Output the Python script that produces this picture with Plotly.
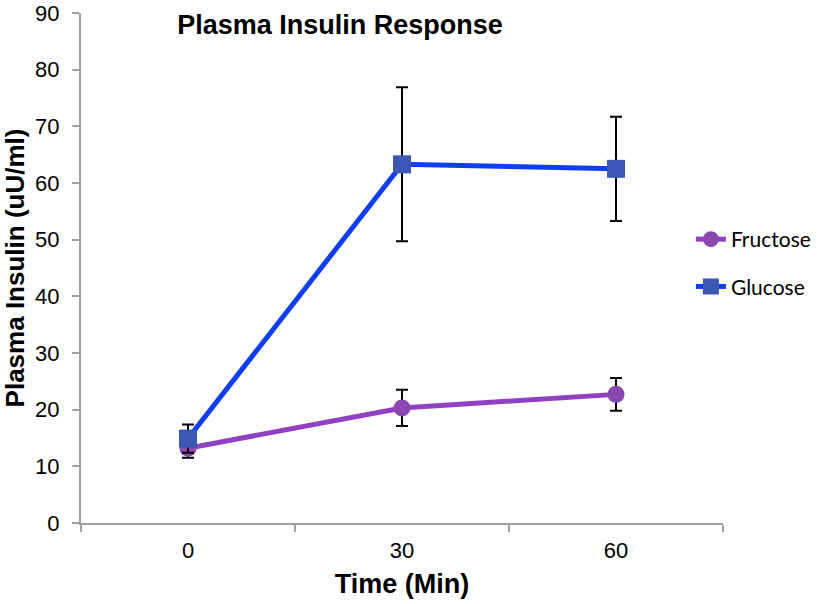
import plotly.graph_objects as go

categories = ["0", "30", "60"]
fructose = [13.2, 20.3, 22.7]
fructose_err = [1.7, 3.2, 2.9]
glucose = [14.9, 63.3, 62.5]
glucose_err = [2.5, 13.6, 9.2]
y_ticks = [0, 10, 20, 30, 40, 50, 60, 70, 80, 90]

fig = go.Figure()
fig.add_trace(go.Scatter(
    x=categories, y=fructose, name="Fructose", mode="lines+markers",
    legendgroup="f",
    line=dict(color="#9140c4", width=5),
    marker=dict(symbol="circle", size=17, color="#8a48b0"),
    error_y=dict(type="data", array=fructose_err, color="black", thickness=2, width=6),
))
fig.add_trace(go.Scatter(
    x=categories, y=glucose, name="Glucose", mode="lines+markers",
    legendgroup="g",
    line=dict(color="#0f3df0", width=5),
    marker=dict(symbol="square", size=18, color="#3a58b4"),
    error_y=dict(type="data", array=glucose_err, color="black", thickness=2, width=6),
))

fig.update_layout(
    width=820, height=604,
    margin=dict(l=81, r=97, t=13, b=81, autoexpand=False),
    paper_bgcolor="white", plot_bgcolor="white",
    font=dict(family="Liberation Sans, Arial, sans-serif", color="black"),
    title=dict(text="<b>Plasma Insulin Response</b>", x=340 / 820, xanchor="center",
               y=1 - 25 / 604, yanchor="middle", yref="container",
               font=dict(size=27, color="black")),
    showlegend=True,
    legend=dict(x=0.95, xanchor="left", y=(523 - 263) / 510, yanchor="middle",
                font=dict(size=21, family="Lato, Open Sans, sans-serif"),
                tracegroupgap=17, traceorder="grouped", bgcolor="rgba(0,0,0,0)"),
)
fig.update_xaxes(
    type="category", range=[-0.5, 2.5], showline=True, linecolor="#a0a0a0", linewidth=2,
    ticks="outside", tickson="boundaries", ticklen=7, tickcolor="#a0a0a0", tickwidth=2,
    tickfont=dict(size=22), ticklabelstandoff=7, showgrid=False, zeroline=False,
    automargin=False, ticklabeloverflow="allow",
    title=dict(text="<b>Time (Min)</b>", font=dict(size=27), standoff=12),
)
fig.update_yaxes(
    range=[0, 90], tickvals=y_ticks, showline=True, linecolor="#a0a0a0", linewidth=2,
    ticks="outside", ticklen=7, tickcolor="#a0a0a0", tickwidth=2,
    tickfont=dict(size=22), ticklabelstandoff=8, showgrid=False, zeroline=False,
    automargin=False, ticklabeloverflow="allow",
    title=dict(text="<b>Plasma Insulin (uU/ml)</b>", font=dict(size=26), standoff=19),
)
fig.write_html("out.html", config={"displayModeBar": False},
               post_script="document.body.style.margin='0';")
